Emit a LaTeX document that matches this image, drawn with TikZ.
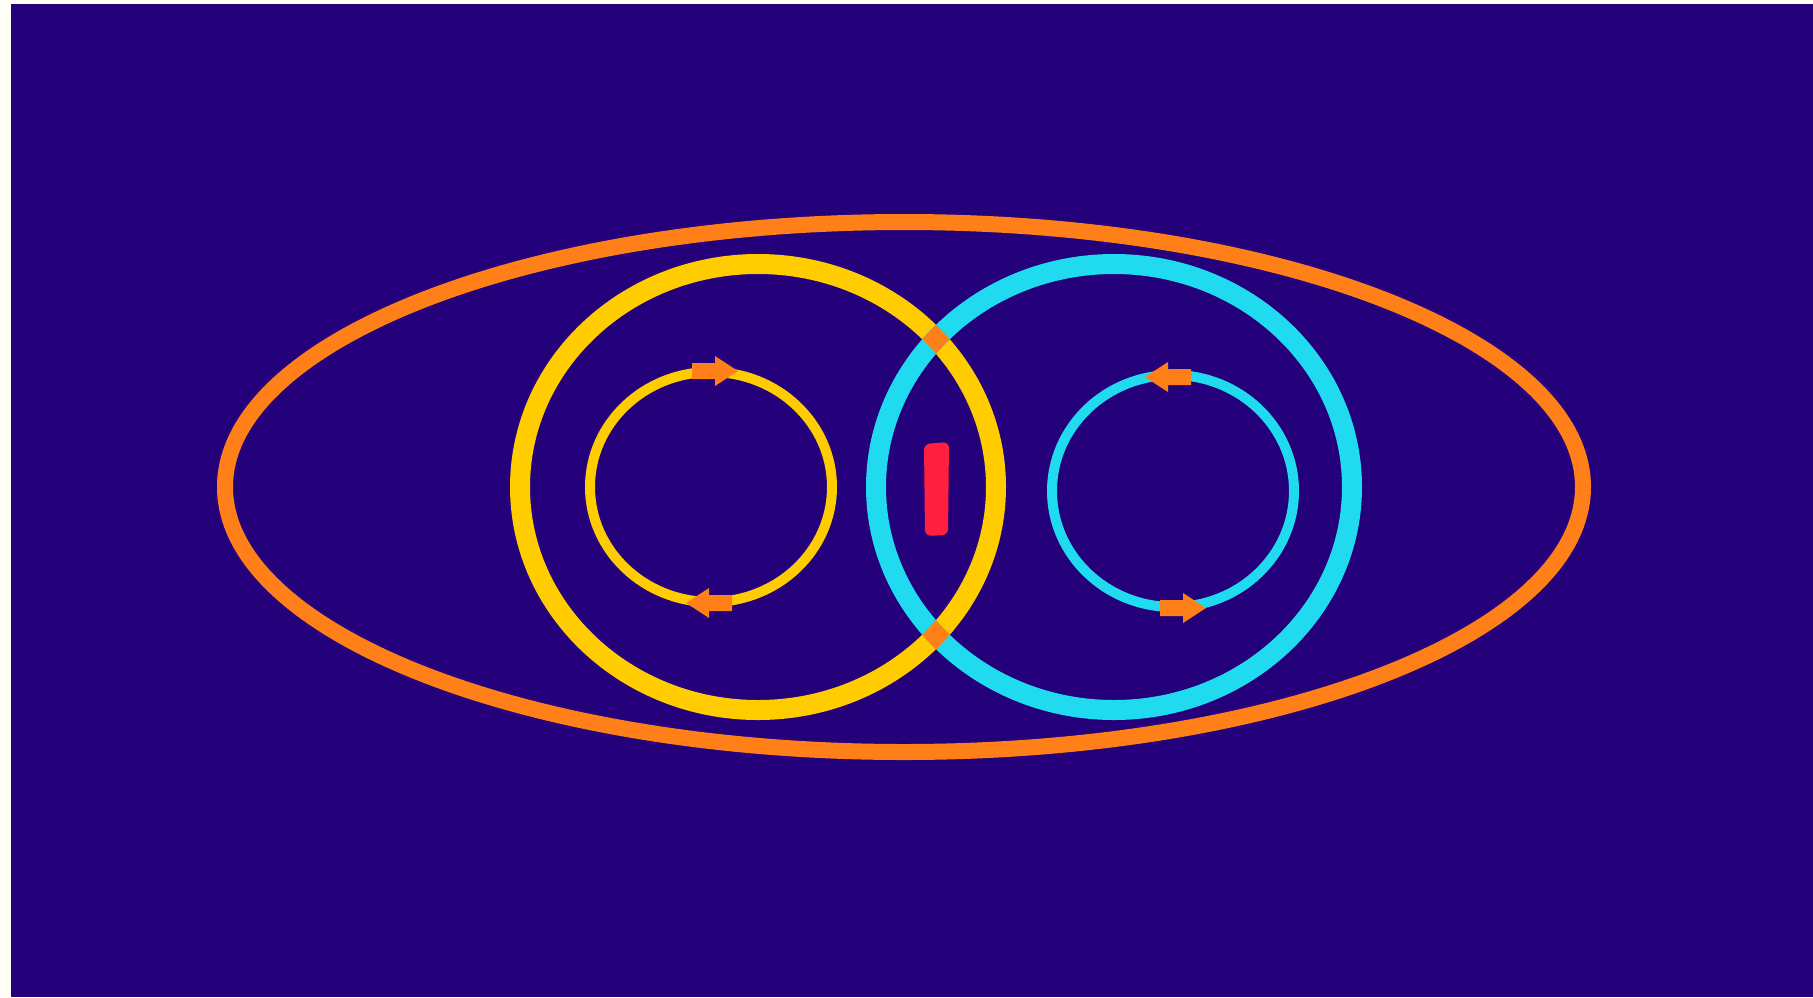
\documentclass[tikz,border=0pt]{standalone}
\definecolor{bg}{RGB}{36,0,122}
\definecolor{org}{RGB}{255,128,24}
\definecolor{yel}{RGB}{255,204,0}
\definecolor{cya}{RGB}{32,218,240}
\definecolor{redm}{RGB}{255,32,64}
\tikzset{
  barrow/.pic={\fill[org] (0,-8) -- (23,-8) -- (23,-15) -- (46,0) -- (23,15) -- (23,8) -- (0,8) -- cycle;},
  bigring/.style={line width=20},
  smallring/.style={line width=10}
}
\begin{document}
\begin{tikzpicture}[x=1pt,y=-1pt]
\useasboundingbox (0,0) rectangle (1813,997);
\fill[white!97!yellow] (0,0) rectangle (1813,997);
\fill[bg] (11,4) rectangle (1813,997);
% outer ellipse
\draw[org, line width=16] (904,487) ellipse [x radius=679, y radius=265];
% big rings
\draw[yel, bigring] (758,487) ellipse [x radius=238, y radius=223];
\draw[cya, bigring] (1114,487) ellipse [x radius=238, y radius=223];
\begin{scope}[even odd rule]
  \clip (758,487) ellipse [x radius=248, y radius=233] (758,487) ellipse [x radius=228, y radius=213];
  \draw[org, bigring] (1114,487) ellipse [x radius=238, y radius=223];
\end{scope}
% small rings
\draw[yel, smallring] (711,487) ellipse [x radius=121, y radius=115];
\draw[cya, smallring] (1173,491) ellipse [x radius=121, y radius=116];
% arrows
\pic at (692,371) {barrow};
\pic[rotate=180] at (732,603) {barrow};
\pic[rotate=180] at (1191,377) {barrow};
\pic at (1160,608) {barrow};
% red mark
\fill[redm, rounded corners=6] (924,444) -- (949,442) -- (948,535) -- (925,536) -- cycle;
\end{tikzpicture}
\end{document}
